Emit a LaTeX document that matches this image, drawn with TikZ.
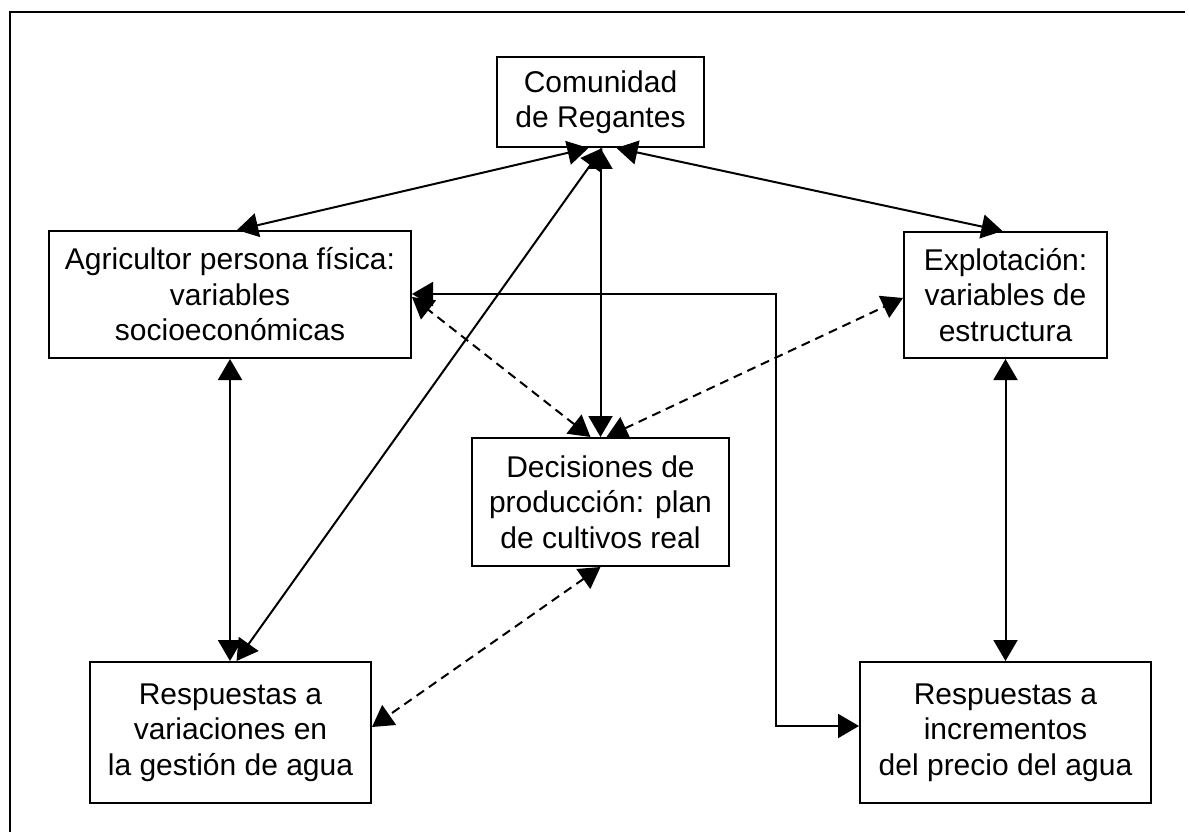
\documentclass[tikz,border=0pt]{standalone}
\usepackage{fontspec}
\setmainfont{Liberation Sans}
\usetikzlibrary{arrows.meta,calc}
\begin{document}
\begin{tikzpicture}[x=1pt,y=-1pt,
  box/.style={draw,line width=2pt,rectangle,inner sep=0pt,align=center,
    font=\fontsize{30}{35.5}\selectfont},
  conn/.style={line width=2pt,{Triangle[length=21pt,width=24pt]}-{Triangle[length=21pt,width=24pt]}},
  dconn/.style={conn,dash pattern=on 9pt off 6pt},
  frame/.style={line width=2pt}]
\useasboundingbox (0,0) rectangle (1189,832);
\draw[frame] (10,832) -- (10,12) -- (1185,12);
\node[box,minimum width=207pt,minimum height=90pt] (C) at (600.5,102) {Comunidad\\de Regantes};
\node[box,minimum width=362pt,minimum height=127pt] (A) at (230,294.5) {Agricultor persona física:\\variables\\socioeconómicas};
\node[box,minimum width=203pt,minimum height=126pt] (E) at (1005.5,295) {Explotación:\\variables de\\estructura};
\node[box,minimum width=257pt,minimum height=128pt] (D) at (600.5,502) {Decisiones de\\producción: plan\\de cultivos real};
\node[box,minimum width=281pt,minimum height=141pt] (RL) at (230.5,732.5) {Respuestas a\\variaciones en\\la gestión de agua};
\node[box,minimum width=291pt,minimum height=141pt] (RR) at (1005.5,732.5) {Respuestas a\\incrementos\\del precio del agua};
\coordinate (bend) at (776,294);
\draw[conn] ([xshift=-12pt]C.south) -- ([xshift=7pt]A.north);
\draw[conn] ([xshift=16pt]C.south) -- ([xshift=-3pt]E.north);
\draw[conn] (C.south) -- (D.north);
\draw[conn] ([xshift=2pt]C.south) -- ([xshift=6pt]RL.north);
\draw[conn] (A.south) -- (A.south |- RL.north);
\draw[conn] (E.south) -- (RR.north);
\draw[dconn] ([xshift=-10pt]D.north) -- ([yshift=-2.5pt]A.east);
\draw[dconn] ([xshift=6pt]D.north) -- ([yshift=-3pt]E.west);
\draw[dconn] (D.south) -- ([yshift=5.5pt]RL.east);
\draw[conn] ([yshift=0.5pt]A.east) -| (bend) |- ([yshift=6.5pt]RR.west);
\end{tikzpicture}
\end{document}
